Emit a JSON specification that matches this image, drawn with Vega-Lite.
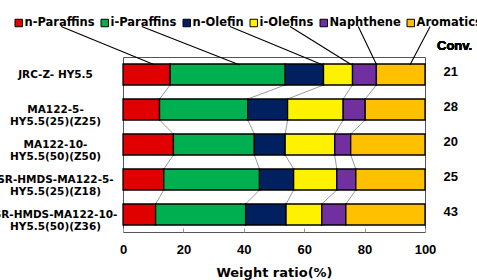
{
  "$schema": "https://vega.github.io/schema/vega-lite/v6.json",
  "width": 302,
  "height": 175,
  "autosize": {"type": "none"},
  "padding": {"left": 123, "top": 57, "right": 52, "bottom": 48},
  "background": "white",
  "config": {
    "view": {"stroke": "#555", "strokeWidth": 1},
    "axis": {"grid": false, "labelColor": "black", "titleColor": "black"}
  },
  "datasets": {
    "comp": [
      {"sample": "JRC-Z- HY5.5", "r": 1, "component": "n-Paraffins", "value": 15.6},
      {"sample": "JRC-Z- HY5.5", "r": 1, "component": "i-Paraffins", "value": 38.1},
      {"sample": "JRC-Z- HY5.5", "r": 1, "component": "n-Olefin", "value": 12.7},
      {"sample": "JRC-Z- HY5.5", "r": 1, "component": "i-Olefins", "value": 9.6},
      {"sample": "JRC-Z- HY5.5", "r": 1, "component": "Naphthene", "value": 7.9},
      {"sample": "JRC-Z- HY5.5", "r": 1, "component": "Aromatics", "value": 16.1},
      {"sample": "MA122-5-\nHY5.5(25)(Z25)", "r": 2, "component": "n-Paraffins", "value": 12.1},
      {"sample": "MA122-5-\nHY5.5(25)(Z25)", "r": 2, "component": "i-Paraffins", "value": 29.2},
      {"sample": "MA122-5-\nHY5.5(25)(Z25)", "r": 2, "component": "n-Olefin", "value": 13.2},
      {"sample": "MA122-5-\nHY5.5(25)(Z25)", "r": 2, "component": "i-Olefins", "value": 18.4},
      {"sample": "MA122-5-\nHY5.5(25)(Z25)", "r": 2, "component": "Naphthene", "value": 7.3},
      {"sample": "MA122-5-\nHY5.5(25)(Z25)", "r": 2, "component": "Aromatics", "value": 19.8},
      {"sample": "MA122-10-\nHY5.5(50)(Z50)", "r": 3, "component": "n-Paraffins", "value": 16.7},
      {"sample": "MA122-10-\nHY5.5(50)(Z50)", "r": 3, "component": "i-Paraffins", "value": 26.8},
      {"sample": "MA122-10-\nHY5.5(50)(Z50)", "r": 3, "component": "n-Olefin", "value": 10.2},
      {"sample": "MA122-10-\nHY5.5(50)(Z50)", "r": 3, "component": "i-Olefins", "value": 16.4},
      {"sample": "MA122-10-\nHY5.5(50)(Z50)", "r": 3, "component": "Naphthene", "value": 5.3},
      {"sample": "MA122-10-\nHY5.5(50)(Z50)", "r": 3, "component": "Aromatics", "value": 24.6},
      {"sample": "SR-HMDS-MA122-5-\nHY5.5(25)(Z18)", "r": 4, "component": "n-Paraffins", "value": 13.5},
      {"sample": "SR-HMDS-MA122-5-\nHY5.5(25)(Z18)", "r": 4, "component": "i-Paraffins", "value": 31.7},
      {"sample": "SR-HMDS-MA122-5-\nHY5.5(25)(Z18)", "r": 4, "component": "n-Olefin", "value": 11.3},
      {"sample": "SR-HMDS-MA122-5-\nHY5.5(25)(Z18)", "r": 4, "component": "i-Olefins", "value": 14.3},
      {"sample": "SR-HMDS-MA122-5-\nHY5.5(25)(Z18)", "r": 4, "component": "Naphthene", "value": 6.3},
      {"sample": "SR-HMDS-MA122-5-\nHY5.5(25)(Z18)", "r": 4, "component": "Aromatics", "value": 22.9},
      {"sample": "SR-HMDS-MA122-10-\nHY5.5(50)(Z36)", "r": 5, "component": "n-Paraffins", "value": 10.8},
      {"sample": "SR-HMDS-MA122-10-\nHY5.5(50)(Z36)", "r": 5, "component": "i-Paraffins", "value": 29.8},
      {"sample": "SR-HMDS-MA122-10-\nHY5.5(50)(Z36)", "r": 5, "component": "n-Olefin", "value": 13.4},
      {"sample": "SR-HMDS-MA122-10-\nHY5.5(50)(Z36)", "r": 5, "component": "i-Olefins", "value": 11.8},
      {"sample": "SR-HMDS-MA122-10-\nHY5.5(50)(Z36)", "r": 5, "component": "Naphthene", "value": 8.0},
      {"sample": "SR-HMDS-MA122-10-\nHY5.5(50)(Z36)", "r": 5, "component": "Aromatics", "value": 26.2}
    ],
    "conv": [
      {"sample": "JRC-Z- HY5.5", "conv": 21},
      {"sample": "MA122-5-\nHY5.5(25)(Z25)", "conv": 28},
      {"sample": "MA122-10-\nHY5.5(50)(Z50)", "conv": 20},
      {"sample": "SR-HMDS-MA122-5-\nHY5.5(25)(Z18)", "conv": 25},
      {"sample": "SR-HMDS-MA122-10-\nHY5.5(50)(Z36)", "conv": 43}
    ],
    "leaders": [
      {"component": "n-Paraffins", "from": -20.5, "to": 10.6},
      {"component": "i-Paraffins", "from": 6.2, "to": 38.7},
      {"component": "n-Olefin", "from": 35.4, "to": 66.2},
      {"component": "i-Olefins", "from": 55.3, "to": 75.8},
      {"component": "Naphthene", "from": 77.9, "to": 84.0},
      {"component": "Aromatics", "from": 101.7, "to": 95.0}
    ]
  },
  "layer": [
    {
      "data": {"name": "comp"},
      "transform": [
        {"calculate": "indexof(['n-Paraffins','i-Paraffins','n-Olefin','i-Olefins','Naphthene','Aromatics'], datum.component)", "as": "ci"}
      ],
      "layer": [
        {
          "transform": [
            {"window": [{"op": "sum", "field": "value", "as": "cum"}], "groupby": ["sample"], "sort": [{"field": "ci"}], "frame": [null, 0]},
            {"window": [{"op": "lead", "field": "cum", "as": "cumNext"}, {"op": "lead", "field": "sample", "as": "sampleNext"}], "groupby": ["component"], "sort": [{"field": "r"}], "frame": [null, null]},
            {"filter": "datum.sampleNext != null && datum.ci < 5"}
          ],
          "mark": {"type": "rule", "color": "#808080", "strokeWidth": 0.8, "yOffset": 10.5, "y2Offset": -10.5},
          "encoding": {
            "x": {"field": "cum", "type": "quantitative"},
            "x2": {"field": "cumNext"},
            "y": {"field": "sample", "type": "nominal"},
            "y2": {"field": "sampleNext"}
          }
        },
        {
          "mark": {"type": "bar", "stroke": "black", "strokeWidth": 1.3, "opacity": 1},
          "encoding": {
            "x": {
              "field": "value", "type": "quantitative", "stack": "zero",
              "scale": {"domain": [0, 100], "nice": false},
              "axis": {
                "values": [0, 10, 20, 30, 40, 50, 60, 70, 80, 90, 100],
                "labelExpr": "datum.value % 20 == 0 ? datum.label : ''",
                "domain": false,
                "tickSize": -4,
                "tickColor": "#999",
                "labelPadding": 21,
                "labelFont": "Liberation Sans",
                "labelFontSize": 13,
                "labelFontWeight": "bold",
                "labelBaseline": "middle",
                "labelFlush": false,
                "title": "Weight ratio(%)",
                "titleFont": "DejaVu Sans",
                "titleFontSize": 13,
                "titleFontWeight": "bold",
                "titlePadding": 10
              }
            },
            "y": {
              "field": "sample", "type": "nominal",
              "scale": {
                "domain": ["JRC-Z- HY5.5", "MA122-5-\nHY5.5(25)(Z25)", "MA122-10-\nHY5.5(50)(Z50)", "SR-HMDS-MA122-5-\nHY5.5(25)(Z18)", "SR-HMDS-MA122-10-\nHY5.5(50)(Z36)"],
                "paddingInner": 0.4, "paddingOuter": 0.2
              },
              "axis": {
                "title": null,
                "domain": false,
                "ticks": false,
                "labelExpr": "split(datum.label, '\\n')",
                "labelAlign": "center",
                "labelBaseline": "middle",
                "labelPadding": 68,
                "labelFont": "DejaVu Sans",
                "labelFontSize": 10.5,
                "labelFontWeight": "bold",
                "labelLineHeight": 12.5,
                "labelLimit": 300
              }
            },
            "color": {
              "field": "component", "type": "nominal",
              "sort": ["n-Paraffins", "i-Paraffins", "n-Olefin", "i-Olefins", "Naphthene", "Aromatics"],
              "scale": {"range": ["#E00000", "#00B050", "#002060", "#FFF200", "#7030A0", "#FFC000"]},
              "legend": {
                "title": null,
                "orient": "none",
                "legendX": -110,
                "legendY": -40,
                "direction": "horizontal",
                "columns": 6,
                "padding": 0,
                "symbolType": "square",
                "symbolSize": 56,
                "symbolStrokeColor": "black",
                "symbolStrokeWidth": 1,
                "symbolOpacity": 1,
                "labelFont": "DejaVu Sans",
                "labelFontSize": 11.5,
                "labelFontWeight": "bold",
                "labelColor": "black",
                "labelOffset": 0,
                "columnPadding": 4
              }
            },
            "order": {"field": "ci", "type": "quantitative"}
          }
        },
        {
          "data": {"name": "conv"},
          "mark": {"type": "text", "font": "Liberation Sans", "fontSize": 13, "fontWeight": "bold", "color": "black", "align": "center", "baseline": "middle", "dy": -3},
          "encoding": {
            "x": {"datum": 108.5, "type": "quantitative"},
            "y": {"field": "sample", "type": "nominal"},
            "text": {"field": "conv", "type": "quantitative"}
          }
        }
      ]
    },
    {
      "data": {"name": "leaders"},
      "layer": [
        {
          "mark": {"type": "rule", "color": "black", "strokeWidth": 1.1},
          "encoding": {
            "x": {"field": "from", "type": "quantitative"},
            "x2": {"field": "to"},
            "y": {"datum": -0.37, "type": "quantitative", "scale": {"domain": [0.5, 5.5], "reverse": true, "nice": false, "zero": false}, "axis": null},
            "y2": {"datum": 0.73}
          }
        },
        {
          "mark": {"type": "text", "text": "Conv.", "font": "Liberation Sans", "fontSize": 13, "fontWeight": "bold", "color": "black", "align": "center", "baseline": "middle"},
          "encoding": {
            "x": {"datum": 109.8, "type": "quantitative"},
            "y": {"datum": 0.19, "type": "quantitative"}
          }
        }
      ]
    }
  ],
  "resolve": {"scale": {"y": "independent"}}
}
